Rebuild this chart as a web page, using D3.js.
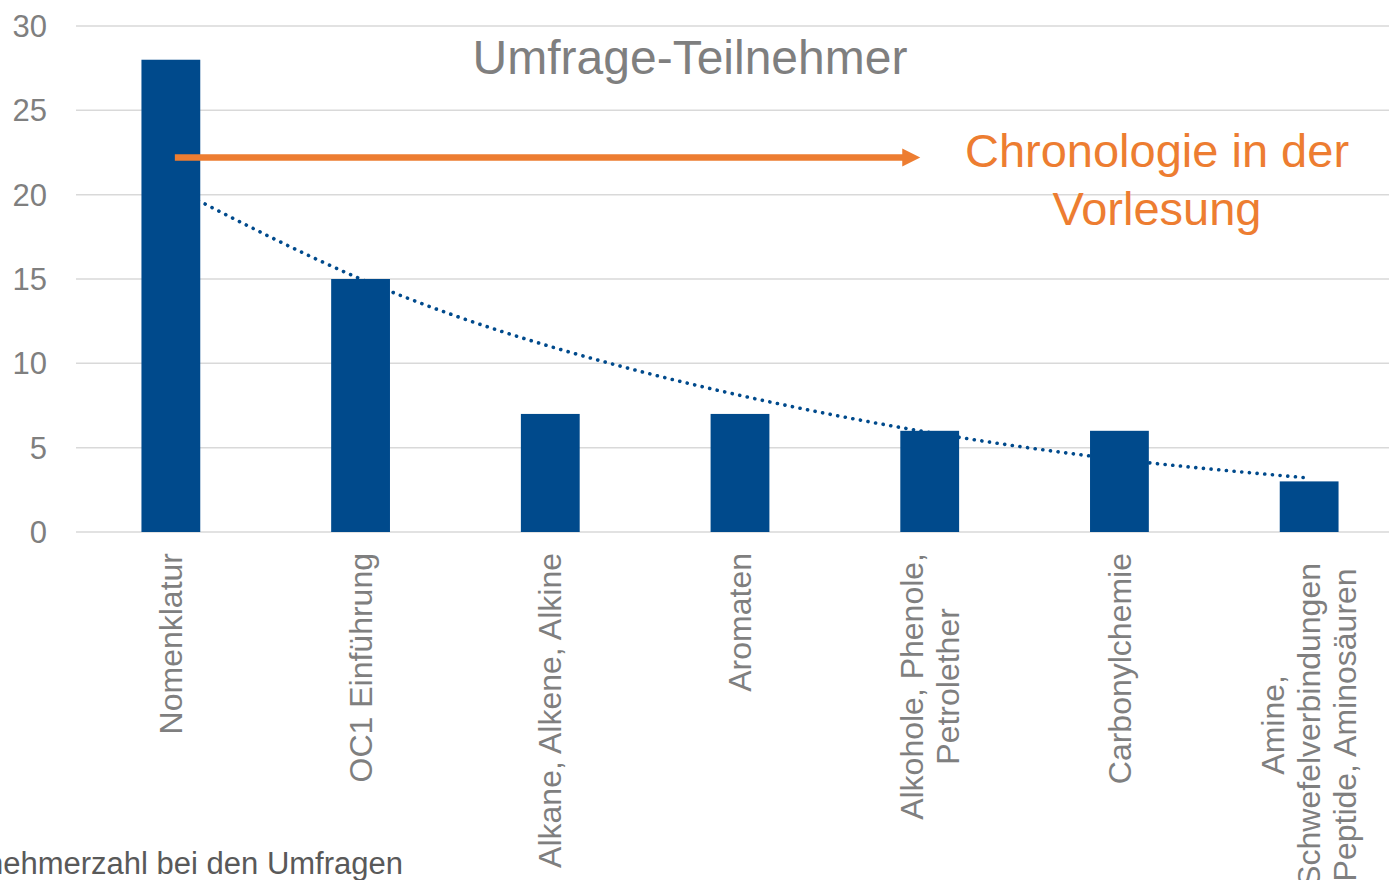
<!DOCTYPE html>
<html>
<head>
<meta charset="utf-8">
<script src="https://cdn.jsdelivr.net/npm/d3@7"></script>
<style>
  html, body { margin: 0; padding: 0; background: #fff; overflow: hidden; }
  svg { display: block; font-family: "Liberation Sans", Arial, sans-serif; }
</style>
</head>
<body>
<div id="chart"></div>
<script>
// Kategorien (Zeilen der Achsenbeschriftung)
const categories = [
  ["Nomenklatur"],
  ["OC1 Einführung"],
  ["Alkane, Alkene, Alkine"],
  ["Aromaten"],
  ["Alkohole, Phenole,", "Petrolether"],
  ["Carbonylchemie"],
  ["Amine,", "Schwefelverbindungen", "Peptide, Aminosäuren"]
];
const counts = [28, 15, 7, 7, 6, 6, 3];
const trend = [20.5, 15.0, 11.0, 8.1, 5.9, 4.3, 3.2];
const yTicks = [0, 5, 10, 15, 20, 25, 30];

const width = 1389, height = 880;
const margin = { left: 76, top: 26, bottom: 348 };
const plotRight = 1404; // Diagramm ragt über den Bildrand hinaus

const svg = d3.select("#chart").append("svg")
  .attr("width", width)
  .attr("height", height);

const keys = categories.map((d, i) => i);
const x = d3.scaleBand()
  .domain(keys)
  .range([margin.left, plotRight])
  .padding(0);

const y = d3.scaleLinear()
  .domain([0, 30])
  .range([height - margin.bottom, margin.top]);

const barW = x.bandwidth() * 0.31;

// Gitterlinien
svg.append("g")
  .selectAll("line")
  .data(yTicks)
  .join("line")
  .attr("x1", margin.left)
  .attr("x2", width)
  .attr("y1", d => y(d))
  .attr("y2", d => y(d))
  .attr("stroke", "#d9d9d9")
  .attr("stroke-width", 1.5);

// Y-Achsenbeschriftung
svg.append("g")
  .selectAll("text")
  .data(yTicks)
  .join("text")
  .attr("x", 47)
  .attr("y", d => y(d))
  .attr("dy", "0.35em")
  .attr("text-anchor", "end")
  .attr("fill", "#7f7f7f")
  .style("font-size", "31px")
  .text(d => d);

// Trendlinie (hinter den Balken)
const line = d3.line()
  .x((d, i) => x(i) + x.bandwidth() / 2)
  .y(d => y(d))
  .curve(d3.curveNatural);

svg.append("path")
  .datum(trend)
  .attr("fill", "none")
  .attr("stroke", "#004a8c")
  .attr("stroke-width", 3.6)
  .attr("stroke-linecap", "round")
  .attr("stroke-dasharray", "0.1 7.6")
  .attr("d", line);

// Balken
svg.append("g")
  .selectAll("rect")
  .data(counts)
  .join("rect")
  .attr("x", (d, i) => x(i) + (x.bandwidth() - barW) / 2)
  .attr("y", d => y(d))
  .attr("width", barW)
  .attr("height", d => y(0) - y(d))
  .attr("fill", "#004a8c");

// Kategorienbeschriftung, um -90° gedreht
const labelTop = y(0) + 21;
const lineGap = 36;
const lab = svg.append("g")
  .selectAll("g")
  .data(categories)
  .join("g");

lab.each(function (lines, i) {
  const g = d3.select(this);
  const cx = x(i) + x.bandwidth() / 2;
  const t = g.selectAll("text")
    .data(lines)
    .join("text")
    .attr("fill", "#7f7f7f")
    .style("font-size", "32px")
    .attr("text-anchor", "middle")
    .text(d => d);
  const maxLen = d3.max(t.nodes(), n => n.getComputedTextLength());
  const off = (lines.length - 1) / 2;
  const top = lines.length > 2 ? labelTop + 10 : labelTop;
  t.attr("transform", (d, j) =>
      `translate(${cx + (j - off) * lineGap},${top + maxLen / 2}) rotate(-90)`)
    .attr("dy", "0.35em");
});

// Titel
svg.append("text")
  .attr("x", 690)
  .attr("y", 74)
  .attr("text-anchor", "middle")
  .attr("fill", "#7f7f7f")
  .style("font-size", "48px")
  .text("Umfrage-Teilnehmer");

// Pfeil "Chronologie"
const arrowY = y(22.2);
const ax1 = x(0) + x.bandwidth() / 2 + 4;
const ax2 = x(4) + x.bandwidth() * 0.45;
svg.append("line")
  .attr("x1", ax1)
  .attr("x2", ax2 - 16)
  .attr("y1", arrowY)
  .attr("y2", arrowY)
  .attr("stroke", "#ed7d31")
  .attr("stroke-width", 6.5);
svg.append("path")
  .attr("d", `M${ax2 - 18},${arrowY - 9} L${ax2},${arrowY} L${ax2 - 18},${arrowY + 9} Z`)
  .attr("fill", "#ed7d31");

svg.append("text")
  .attr("x", 1157)
  .attr("y", 167)
  .attr("text-anchor", "middle")
  .attr("fill", "#ed7d31")
  .style("font-size", "47px")
  .selectAll("tspan")
  .data(["Chronologie in der", "Vorlesung"])
  .join("tspan")
  .attr("x", 1157)
  .attr("dy", (d, i) => i === 0 ? 0 : 58)
  .text(d => d);

// Bildunterschrift (links abgeschnitten wie im Original)
svg.append("text")
  .attr("x", 403)
  .attr("y", 874)
  .attr("text-anchor", "end")
  .attr("fill", "#595959")
  .style("font-size", "31px")
  .text("Teilnehmerzahl bei den Umfragen");
</script>
</body>
</html>
